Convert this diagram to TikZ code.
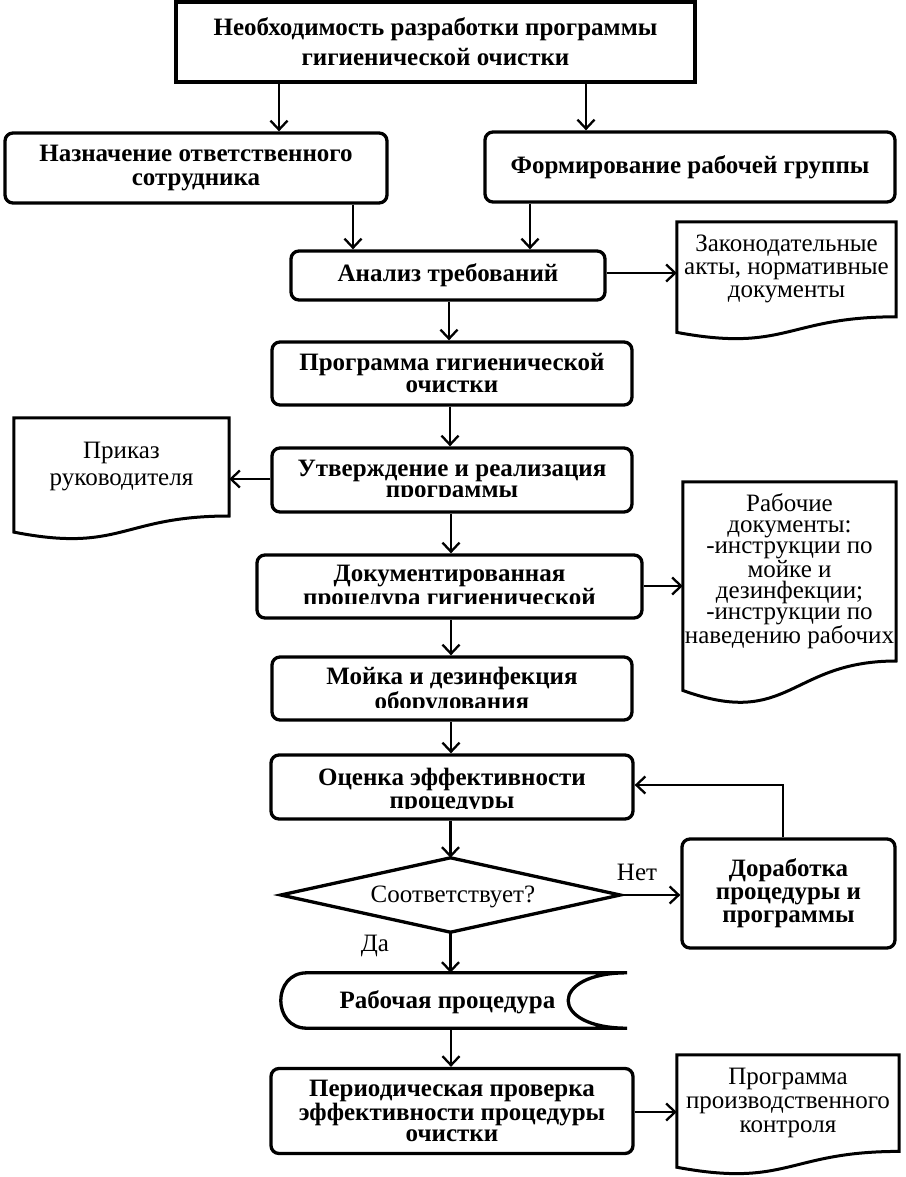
\documentclass[tikz,border=0pt]{standalone}
\usepackage{fontspec}
\setmainfont{Liberation Serif}
\usetikzlibrary{arrows.meta,calc}

\newcommand{\docoutline}[2]{%
  \draw[docline] (#1.north west) -- ($(#1.south west)+(0,0.132*#2)$)
    .. controls ($(#1.south)+(0,0.305*#2)$) and (#1.south) .. (#1.south east)
    -- (#1.north east) -- cycle;}

\tikzset{
  box/.style={draw, line width=3.3pt, rounded corners=8pt, inner sep=0pt, align=center,
    font=\bfseries\fontsize{25}{22}\selectfont},
  sqbox/.style={box, rounded corners=0pt},
  boxtext/.style={inner sep=0pt, align=center, font=\bfseries\fontsize{25}{21}\selectfont},
  docnode/.style={inner sep=0pt, align=center, font=\fontsize{25}{23}\selectfont},
  docline/.style={line width=3pt, line join=miter},
  lbl/.style={inner sep=0pt, font=\fontsize{25}{22}\selectfont},
  arr/.style={line width=2.3pt, -{Straight Barb[length=9pt,width=17pt]}},
}

\begin{document}
\begin{tikzpicture}[x=1pt, y=-1pt]
\useasboundingbox (0,0) rectangle (905,1177);

\coordinate (a1) at (279,82);
\coordinate (a2) at (586,82);
\coordinate (a3) at (353,202);
\coordinate (a4) at (530,202);

% top
\node[sqbox, minimum width=519pt, minimum height=80pt,
      font=\bfseries\fontsize{25}{30}\selectfont] (need) at (435.5,42)
  {Необходимость разработки программы\\гигиенической очистки};
\node[box, minimum width=382pt, minimum height=70pt,
      font=\bfseries\fontsize{25}{24}\selectfont] (resp) at (196,168)
  {Назначение ответственного\\сотрудника};
\node[box, minimum width=410pt, minimum height=70pt] (group) at (690,167)
  {Формирование рабочей группы};

\node[box, minimum width=314pt, minimum height=49pt] (anal) at (448,275.5)
  {Анализ требований};
\node[docnode, minimum width=219pt, minimum height=94.6pt] (law) at (786.5,269.3)
  {Законодательные\\акты, нормативные\\документы};
\docoutline{law}{118}

\node[box, minimum width=360pt, minimum height=63pt] (prog) at (452,373.5)
  {Программа гигиенической\\очистки};

\node[box, minimum width=360pt, minimum height=64pt] (appr) at (452,480) {};
\begin{scope}
  \clip (appr.north west) rectangle (appr.east |- 0,496);
  \node[boxtext] (apprt) at (452,481) {Утверждение и реализация\\программы};
\end{scope}
\node[docnode, minimum width=215pt, minimum height=97.8pt, font=\fontsize{25}{27}\selectfont] (order) at (121.5,466.9)
  {Приказ\\руководителя};
\docoutline{order}{122}

\node[box, minimum width=385pt, minimum height=63pt] (docp) at (449.5,586.5) {};
\begin{scope}
  \clip (docp.north west) rectangle (docp.east |- 0,603);
  \node[boxtext] (docpt) at (449.5,588) {Документированная\\процедура гигиенической};
\end{scope}
\node[docnode, minimum width=213pt, minimum height=178.8pt, font=\fontsize{25}{21}\selectfont] (work) at (789.5,571.4)
  {Рабочие\\документы:\\-инструкции по\\мойке и\\дезинфекции;\\-инструкции по\\наведению рабочих};
\docoutline{work}{223}

\node[box, minimum width=360pt, minimum height=63pt] (wash) at (452,688.5) {};
\begin{scope}
  \clip (wash.north west) rectangle (wash.east |- 0,707);
  \node[boxtext, font=\bfseries\fontsize{25}{22}\selectfont] (washt) at (452,691) {Мойка и дезинфекция\\оборудования};
\end{scope}

\node[box, minimum width=362pt, minimum height=64pt] (eval) at (452,787) {};
\begin{scope}
  \clip (eval.north west) rectangle (eval.east |- 0,808);
  \node[boxtext, font=\bfseries\fontsize{25}{23}\selectfont] (evalt) at (452,791.5) {Оценка эффективности\\процедуры};
\end{scope}

\node[inner sep=0pt, minimum width=339pt, minimum height=74pt] (dec) at (450.5,895) {};
\draw[line width=3.3pt, line join=miter] (dec.north) -- (dec.east) -- (dec.south) -- (dec.west) -- cycle;
\node[lbl] (dect) at (453,897) {Соответствует?};

\node[box, minimum width=213pt, minimum height=109pt, font=\bfseries\fontsize{25}{23}\selectfont] (rework) at (788.5,893.5)
  {Доработка\\процедуры и\\программы};

\node[lbl] (no) at (637,872) {Нет};
\node[lbl] (yes) at (375,946) {Да};

\node[inner sep=0pt, minimum width=346pt, minimum height=55pt] (proc) at (454,1000.5) {};
\draw[line width=3.3pt] ($(proc.north west)+(26,0)$) -- (proc.north east)
  .. controls ($(proc.north east)+(-78.7,0)$) and ($(proc.south east)+(-78.7,0)$) .. (proc.south east)
  -- ($(proc.south west)+(26,0)$)
  .. controls ($(proc.south west)+(-8.7,0)$) and ($(proc.north west)+(-8.7,0)$) .. cycle;
\node[boxtext] (proct) at (447.5,1002) {Рабочая процедура};

\node[box, minimum width=362pt, minimum height=85pt, font=\bfseries\fontsize{25}{21}\selectfont] (peri) at (452,1111)
  {Периодическая проверка\\эффективности процедуры\\очистки};
\node[docnode, minimum width=222pt, minimum height=96.2pt, font=\fontsize{25}{24}\selectfont] (pk) at (788,1103.1)
  {Программа\\производственного\\контроля};
\docoutline{pk}{120}

% connectors
\draw[arr] (need.south -| a1) -- (resp.north -| a1);
\draw[arr] (need.south -| a2) -- (group.north -| a2);
\draw[arr] (resp.south -| a3) -- (anal.north -| a3);
\draw[arr] (group.south -| a4) -- (anal.north -| a4);
\draw[arr] (anal.east |- 0,273) -- (law.west |- 0,273);
\draw[arr] (anal.south -| 449,0) -- (prog.north -| 449,0);
\draw[arr] (prog.south -| 450,0) -- (appr.north -| 450,0);
\draw[arr] (appr.west |- 0,479) -- (order.east |- 0,479);
\draw[arr] (appr.south -| 451,0) -- (docp.north -| 451,0);
\draw[arr] (docp.east |- 0,586) -- (work.west |- 0,586);
\draw[arr] (docp.south -| 451,0) -- (wash.north -| 451,0);
\draw[arr] (wash.south -| 451,0) -- (eval.north -| 451,0);
\draw[arr] (eval.south -| dec.north) -- (dec.north);
\draw[arr] (dec.east) -- (rework.west |- dec.east);
\draw[arr] (rework.north -| 783,0) |- (eval.east |- 0,785);
\draw[arr] (dec.south) -- (proc.north -| dec.south);
\draw[arr] (proc.south -| 451,0) -- (peri.north -| 451,0);
\draw[arr] (peri.east |- 0,1112) -- (pk.west |- 0,1112);
\end{tikzpicture}
\end{document}
